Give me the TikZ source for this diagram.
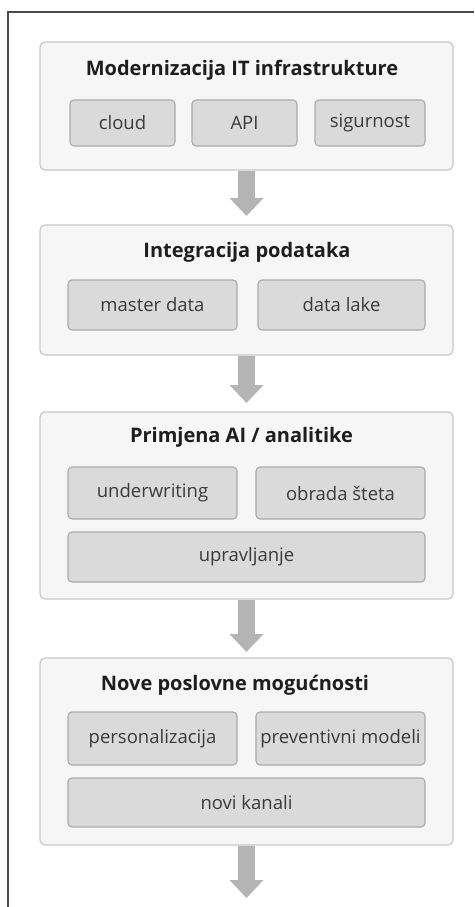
\documentclass[tikz,border=0pt]{standalone}
\usepackage{fontspec}
\setmainfont{Open Sans}
\usetikzlibrary{arrows.meta}

\definecolor{framecol}{HTML}{4A4A4A}
\definecolor{outerfill}{HTML}{F6F6F6}
\definecolor{outerline}{HTML}{C8C8C8}
\definecolor{innerfill}{HTML}{DADADA}
\definecolor{innerline}{HTML}{ABABAB}
\definecolor{flowcol}{HTML}{B4B4B4}
\definecolor{titlecol}{HTML}{1E1E1E}
\definecolor{itemcol}{HTML}{3A3A3A}

\tikzset{
  outerbox/.style={draw=outerline, fill=outerfill, line width=1.2pt,
    rounded corners=5pt, inner sep=0pt},
  innerbox/.style={draw=innerline, fill=innerfill, line width=1.1pt,
    rounded corners=4pt, inner sep=0pt, text=itemcol,
    font=\fontsize{18.5}{20}\selectfont},
  titletext/.style={text=titlecol, inner sep=0pt,
    font=\fontsize{20}{22}\selectfont\bfseries},
  flow/.style={draw=flowcol, line width=17pt,
    -{Triangle[width=33pt,length=18pt]}, shorten >=0pt},
  framestroke/.style={draw=framecol, line width=1.6pt}
}

\begin{document}
\begin{tikzpicture}[x=1pt,y=-1pt]
  \useasboundingbox (0,0) rectangle (474,907);

  % page frame (top and left edges)
  \coordinate (fbl) at (8,907);
  \coordinate (ftl) at (8,12);
  \coordinate (ftr) at (474,12);
  \draw[framestroke] (fbl) -- (ftl) -- (ftr);

  % stage 1
  \node[outerbox, minimum width=413pt, minimum height=128pt] (s1) at (246.5,106) {};
  \node[titletext] (t1) at (242,70) {Modernizacija IT infrastrukture};
  \node[innerbox, minimum width=105pt, minimum height=46pt] (s1a) at (122.5,123) {cloud};
  \node[innerbox, minimum width=105pt, minimum height=46pt] (s1b) at (244.5,123) {API};
  \node[innerbox, minimum width=110pt, minimum height=46pt] (s1c) at (370,123) {sigurnost};

  % stage 2
  \node[outerbox, minimum width=413pt, minimum height=130pt] (s2) at (246.5,290) {};
  \node[titletext] (t2) at (247,252) {Integracija podataka};
  \node[innerbox, minimum width=169pt, minimum height=50pt] (s2a) at (152.5,305) {master data};
  \node[innerbox, minimum width=167pt, minimum height=50pt] (s2b) at (341.5,305) {data lake};

  % stage 3
  \node[outerbox, minimum width=413pt, minimum height=187pt] (s3) at (246.5,505.5) {};
  \node[titletext] (t3) at (241.5,437) {Primjena AI / analitike};
  \node[innerbox, minimum width=169pt, minimum height=52pt] (s3a) at (152.5,493) {underwriting};
  \node[innerbox, minimum width=169pt, minimum height=52pt] (s3b) at (340.5,493) {obrada šteta};
  \node[innerbox, minimum width=357pt, minimum height=50pt] (s3c) at (246.5,557) {upravljanje};

  % stage 4
  \node[outerbox, minimum width=413pt, minimum height=187pt] (s4) at (246.5,751.5) {};
  \node[titletext] (t4) at (235,685) {Nove poslovne mogućnosti};
  \node[innerbox, minimum width=169pt, minimum height=53pt] (s4a) at (152.5,738.5) {personalizacija};
  \node[innerbox, minimum width=169pt, minimum height=53pt] (s4b) at (340.5,738.5) {preventivni modeli};
  \node[innerbox, minimum width=357pt, minimum height=49pt] (s4c) at (246.5,802.5) {novi kanali};

  % flow arrows between stages
  \coordinate (e1) at (246.5,216);
  \coordinate (e2) at (246.5,403);
  \coordinate (e3) at (246.5,652);
  \coordinate (e4) at (246.5,898);
  \draw[flow] (s1.south) -- (e1);
  \draw[flow] (s2.south) -- (e2);
  \draw[flow] (s3.south) -- (e3);
  \draw[flow] (s4.south) -- (e4);
\end{tikzpicture}
\end{document}
